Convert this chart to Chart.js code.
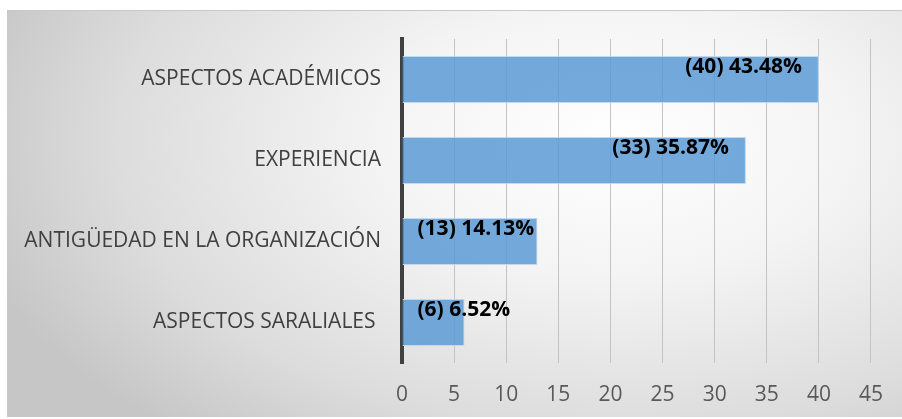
<!DOCTYPE html>
<html>
<head>
<meta charset="utf-8">
<script src="https://cdn.jsdelivr.net/npm/chart.js@4/dist/chart.umd.min.js"></script>
<style>
  html, body { margin: 0; padding: 0; background: #fff; }
  body { width: 902px; height: 419px; position: relative; overflow: hidden; }
  #box {
    position: absolute; left: 7px; top: 10px; width: 895px; height: 407px;
    border-top: 1px solid #c8c8c8; box-sizing: border-box;
    background: radial-gradient(ellipse 75% 95% at 68% 32%, #ffffff 0%, #f4f4f4 35%, #dcdcdc 75%, #c6c6c6 100%);
  }
  canvas { display: block; }
</style>
</head>
<body>
<div id="box"><canvas id="chart" width="895" height="406"></canvas></div>
<script>
// Category labels, counts and shares
const categories = ['ASPECTOS ACADÉMICOS', 'EXPERIENCIA', 'ANTIGÜEDAD EN LA ORGANIZACIÓN', 'ASPECTOS SARALIALES ']
const counts = [40, 33, 13, 6]
const shares = ['43.48%', '35.87%', '14.13%', '6.52%']
const tickMax = 45
const tickStep = 5

const FONT = '"Open Sans", Carlito, sans-serif'

// Draws "(n) pct" labels near the top of each bar, pulled in from the end
const barLabels = {
  id: 'barLabels',
  afterDatasetsDraw(chart) {
    const ctx = chart.ctx
    const meta = chart.getDatasetMeta(0)
    ctx.save()
    ctx.font = `bold 21px ${FONT}`
    ctx.fillStyle = '#000'
    ctx.textBaseline = 'middle'
    ctx.textAlign = 'left'
    meta.data.forEach((bar, i) => {
      const text = `(${counts[i]}) ${shares[i]}`
      const w = ctx.measureText(text).width
      const x = Math.max(bar.base + 15, bar.x - 17 - w)
      ctx.fillText(text, x, bar.y - 12)
    })
    ctx.restore()
  },
}

new Chart(document.getElementById('chart'), {
  type: 'bar',
  data: {
    labels: categories,
    datasets: [{
      data: counts,
      backgroundColor: 'rgba(91,155,213,0.85)',
      borderColor: 'rgba(189,215,238,0.95)',
      borderWidth: 1,
      categoryPercentage: 1,
      barPercentage: 0.58,
    }],
  },
  options: {
    indexAxis: 'y',
    responsive: false,
    animation: false,
    layout: { padding: { top: 28, right: 27, left: 0, bottom: 0 } },
    plugins: { legend: { display: false }, tooltip: { enabled: false } },
    scales: {
      x: {
        min: 0,
        max: tickMax,
        ticks: { stepSize: tickStep, color: '#595959', font: { family: FONT, size: 21 }, padding: 19 },
        grid: { color: '#c3c3c3', lineWidth: 1, drawTicks: false },
        border: { display: false },
        afterFit(scale) { scale.height = 54 },
      },
      y: {
        ticks: { color: '#404040', font: { family: FONT, size: 21 }, padding: 21 },
        grid: { display: false, drawTicks: false },
        border: { color: '#404040', width: 4 },
        afterFit(scale) {
          scale.width = 395
          scale.paddingTop = 0
          scale.paddingBottom = 0
        },
      },
    },
  },
  plugins: [barLabels],
})
</script>
</body>
</html>
